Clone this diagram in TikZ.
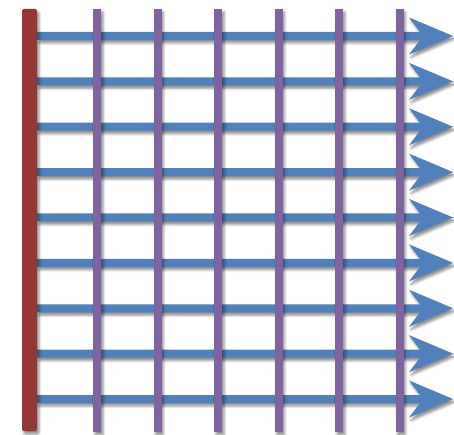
\documentclass[tikz,border=0pt]{standalone}
\usetikzlibrary{shadows.blur}
\definecolor{barblue}{HTML}{4F81BD}
\definecolor{barpurple}{HTML}{8064A2}
\definecolor{barred}{HTML}{953735}
\begin{document}
\begin{tikzpicture}[x=1pt,y=-1pt,
  sh/.style={blur shadow={shadow xshift=2pt,shadow yshift=-3pt,shadow blur radius=2.5pt,shadow opacity=45}}]
\useasboundingbox (0,0) rectangle (454,435);
% horizontal arrows
\foreach \i in {0,...,8}{
  \pgfmathsetmacro\yy{36+45.375*\i}
  \fill[barblue, sh] (37,\yy-4) -- (420,\yy-4) -- (409,\yy-18.5) -- (453,\yy)
     -- (409,\yy+18.5) -- (420,\yy+4) -- (37,\yy+4) -- cycle;
}
% vertical purple lines
\foreach \i in {0,...,5}{
  \pgfmathsetmacro\xx{97+60.5*\i}
  \fill[barpurple, sh] (\xx-4,9) rectangle (\xx+4,432);
}
% red bar
\fill[barred, sh, rounded corners=1.5pt] (22,9) rectangle (37,431);
\end{tikzpicture}
\end{document}
